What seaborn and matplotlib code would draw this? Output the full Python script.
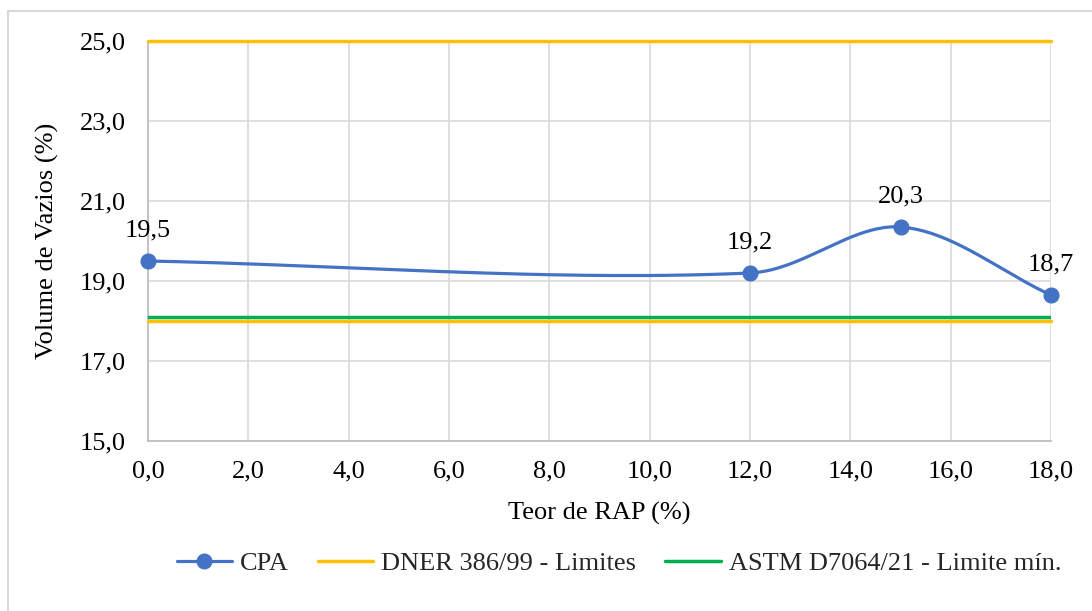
import numpy as np
import pandas as pd
import matplotlib
matplotlib.use("Agg")
import matplotlib.pyplot as plt
from matplotlib.lines import Line2D
from matplotlib.patches import Rectangle
import seaborn as sns

# Data
teor_rap = [0, 12, 15, 18]
cpa = [19.5, 19.2, 20.35, 18.65]
cpa_labels = ["19,5", "19,2", "20,3", "18,7"]
dner_limits = [25.0, 18.0]
astm_min = 18.1
x_ticks = [0, 2, 4, 6, 8, 10, 12, 14, 16, 18]
y_ticks = [15, 17, 19, 21, 23, 25]

sns.set_theme(style="white")
plt.rcParams['font.family'] = ['Liberation Serif', 'DejaVu Serif']

BLUE = "#4472C4"
YELLOW = "#FFC000"
GREEN = "#00B050"
FS = 19

fig = plt.figure(figsize=(10.92, 6.11), dpi=100)
ax = fig.add_axes([148/1092, 1-441/611, (1051-148)/1092, (441-41)/611])

# Excel-like smoothed curve (Bezier, tangents scaled by neighbouring segment lengths)
def smooth(xs, ys, n=80):
    P = np.column_stack([xs, ys]).astype(float)
    m = len(P)
    T = []
    for i in range(m):
        a = P[i - 1] if i > 0 else P[i]
        b = P[i + 1] if i < m - 1 else P[i]
        T.append(b - a)
    out = []
    for i in range(m - 1):
        p1, p2 = P[i], P[i + 1]
        d12 = np.linalg.norm(p2 - p1)
        d01 = np.linalg.norm(p1 - P[i - 1]) if i > 0 else 0.0
        d23 = np.linalg.norm(P[i + 2] - p2) if i + 2 < m else 0.0
        c1 = p1 + T[i] * (d12 / (d01 + d12)) / 3
        c2 = p2 - T[i + 1] * (d12 / (d12 + d23)) / 3
        t = np.linspace(0, 1, n)[:, None]
        seg = (1-t)**3*p1 + 3*(1-t)**2*t*c1 + 3*(1-t)*t**2*c2 + t**3*p2
        out.append(seg if i == 0 else seg[1:])
    return np.vstack(out)

curve = smooth(teor_rap, cpa)
df_curve = pd.DataFrame({"x": curve[:, 0], "y": curve[:, 1]})
df_pts = pd.DataFrame({"x": teor_rap, "y": cpa})

# gridlines
ax.set_axisbelow(True)
ax.grid(True, color="#D9D9D9", linewidth=1.2)

for yv in dner_limits:
    ax.axhline(yv, color=YELLOW, linewidth=2.5, zorder=3, clip_on=False)
ax.axhline(astm_min, color=GREEN, linewidth=2.5, zorder=3)

sns.lineplot(data=df_curve, x="x", y="y", sort=False, color=BLUE, linewidth=2.3,
             ax=ax, zorder=4, legend=False)
sns.scatterplot(data=df_pts, x="x", y="y", color=BLUE, s=115, edgecolor=BLUE,
                ax=ax, zorder=5, legend=False, clip_on=False)

for xv, yv, lab in zip(teor_rap, cpa, cpa_labels):
    ax.annotate(lab, (xv, yv), xytext=(0, 14), textcoords="offset points",
                ha="center", va="bottom", fontsize=FS, color="#000000", zorder=6)

ax.set_xlim(0, 18)
ax.set_ylim(15, 25)
ax.set_xticks(x_ticks)
ax.set_yticks(y_ticks)
ax.set_xticklabels([f"{v:.1f}".replace(".", ",") for v in x_ticks], fontsize=FS)
ax.set_yticklabels([f"{v:.1f}".replace(".", ",") for v in y_ticks], fontsize=FS)
ax.tick_params(axis="y", length=0, pad=16, colors="#000000")
ax.tick_params(axis="x", length=0, pad=14, colors="#000000")
ax.set_xlabel("Teor de RAP (%)", fontsize=FS, color="#000000", labelpad=14)
ax.set_ylabel("Volume de Vazios (%)", fontsize=FS, color="#000000", labelpad=15)

for s in ["top", "right"]:
    ax.spines[s].set_visible(False)
for s in ["left", "bottom"]:
    ax.spines[s].set_color("#BFBFBF")
    ax.spines[s].set_linewidth(1.3)

handles = [
    Line2D([0], [0], color=BLUE, lw=2.3, marker="o", markersize=10.5),
    Line2D([0], [0], color=YELLOW, lw=2.5),
    Line2D([0], [0], color=GREEN, lw=2.5),
]
labels = ["CPA", "DNER 386/99 - Limites", "ASTM D7064/21 - Limite mín."]
fig.legend(handles, labels, loc="center", bbox_to_anchor=(619/1092, 1-563/611),
           ncol=3, frameon=False, fontsize=FS, handlelength=2.1, handletextpad=0.3,
           columnspacing=1.1)

# chart area border
fig.add_artist(Rectangle((8/1092, -0.1), 1.2, (611-11)/611 + 0.1,
                         transform=fig.transFigure, fill=False,
                         edgecolor="#D9D9D9", linewidth=1.5))

fig.savefig("out.png", dpi=100, facecolor="white")
